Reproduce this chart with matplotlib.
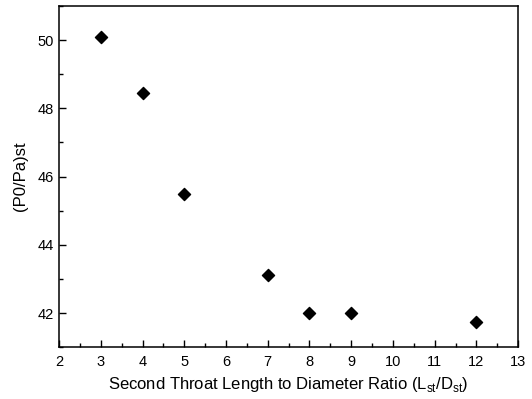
import matplotlib
matplotlib.use('Agg')
import matplotlib.pyplot as plt
from matplotlib.ticker import MultipleLocator

plt.rcParams['font.family'] = ['Liberation Sans', 'DejaVu Sans']

# length-to-diameter ratio of the second throat and pressure ratio
ratio = [3, 4, 5, 7, 8, 9, 12]
pressure = [50.1, 48.45, 45.48, 43.11, 42.0, 42.0, 41.75]

fig = plt.figure(figsize=(5.32, 3.99), dpi=100)
ax = fig.add_axes([0.111, 0.130, 0.863, 0.855])

ax.scatter(ratio, pressure, marker='D', s=38, color='black', zorder=3)

ax.set_xlim(2, 13)
ax.set_ylim(41, 51)
ax.xaxis.set_major_locator(MultipleLocator(1))
ax.xaxis.set_minor_locator(MultipleLocator(0.5))
ax.yaxis.set_major_locator(MultipleLocator(2))
ax.yaxis.set_minor_locator(MultipleLocator(1))
ax.tick_params(which='both', direction='in', top=False, right=False, labelsize=10.5)
ax.tick_params(axis='x', which='major', pad=6)
ax.tick_params(which='major', length=5, width=1)
ax.tick_params(which='minor', length=3, width=1)
for s in ax.spines.values():
    s.set_linewidth(1.1)

ax.set_xlabel('Second Throat Length to Diameter Ratio (L$_{\\mathregular{st}}$/D$_{\\mathregular{st}}$)',
              fontsize=12, labelpad=4)
ax.set_ylabel('(P0/Pa)st', fontsize=12, labelpad=7)

fig.savefig('out.png', dpi=100)
